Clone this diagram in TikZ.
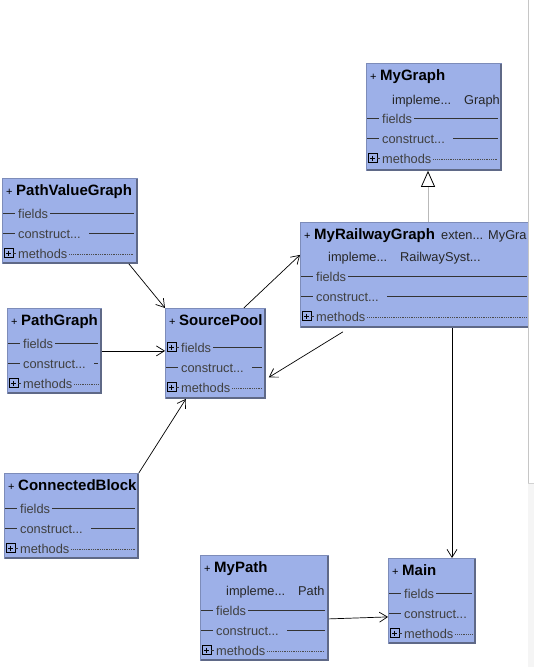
\documentclass[tikz,border=0pt]{standalone}
\usepackage{fontspec}
\setmainfont{Liberation Sans}
\usetikzlibrary{arrows.meta}
\definecolor{clsfill}{RGB}{157,176,232}
\definecolor{clsedge}{RGB}{125,140,185}
\definecolor{clsshadow}{RGB}{95,105,135}
\definecolor{memtext}{RGB}{64,64,64}
\tikzset{
 clsbox/.style={draw=clsedge, fill=clsfill, line width=0.8pt, rectangle, inner sep=0pt, anchor=north west},
 shadowline/.style={draw=clsshadow, line width=1.6pt},
 ttl/.style={font=\fontsize{15}{17}\selectfont\bfseries, inner sep=0pt, anchor=base west},
 pl/.style={font=\fontsize{11}{12}\selectfont, inner sep=0pt, anchor=base west},
 mem/.style={font=\fontsize{12.8}{14}\selectfont, text=memtext, inner sep=0pt, anchor=base west},
 memline/.style={draw=black!80, line width=0.8pt},
 dotline/.style={draw=black!70, line width=0.6pt, dash pattern=on 0.6pt off 1.2pt},
 pboxline/.style={draw=black, line width=0.6pt},
 conn/.style={draw=black, line width=0.7pt, -{Straight Barb[length=8pt,width=10pt]}},
}
\newcommand\umlclass[7]{%
 \def\cid{#1}\def\cw{#4}%
 \begin{scope}[shift={(#2,#3)}]
  \node[clsbox, minimum width=#4pt, minimum height=#5pt] (#1) at (0,0) {};
  \draw[shadowline] (#4,1) -- (#4,#5) -- (1,#5);
  \node[pl] (#1-plus) at (4,17) {+};
  \node[ttl] (#1-title) at (14,17) {#6};
  #7
 \end{scope}}
\newcommand\plusbox[1]{%
 \draw[pboxline] (2,#1-4.5) rectangle (11,#1+4.5);
 \draw[pboxline] (4,#1) -- (9,#1) (6.5,#1-2.5) -- (6.5,#1+2.5);
 \draw[memline] (11,#1) -- (14,#1);}
\newcommand\rowF[2]{%
 \draw[memline] (1,#1) -- (13,#1);
 \node[mem] (\cid-f) at (16,#1+5) {#2};
 \draw[memline, shorten <=2pt] (\cid-f.east |- 0,#1) -- (\cw-3,#1);}
\newcommand\rowFP[2]{%
 \plusbox{#1}
 \node[mem] (\cid-f) at (16,#1+5) {#2};
 \draw[memline, shorten <=2pt] (\cid-f.east |- 0,#1) -- (\cw-3,#1);}
\newcommand\rowC[2]{%
 \draw[memline] (1,#1) -- (13,#1);
 \node[mem] (\cid-c) at (16,#1+5) {#2};
 \draw[memline, shorten <=8pt] (\cid-c.east |- 0,#1) -- (\cw-3,#1);}
\newcommand\rowCn[2]{%
 \draw[memline] (1,#1) -- (13,#1);
 \node[mem] (\cid-c) at (16,#1+5) {#2};}
\newcommand\rowM[2]{%
 \plusbox{#1}
 \node[mem] (\cid-m) at (16,#1+5) {#2};
 \draw[dotline, shorten <=2pt] (\cid-m.east |- 0,#1+1) -- (\cw-3,#1+1);}
\newcommand\rowI[3]{%
 \node[mem, text=black!85] (\cid-i1) at (26,#1+5) {#2};
 \node[mem, text=black!85] (\cid-i2) at (98,#1+5) {#3};}
\begin{document}
\begin{tikzpicture}[x=1pt, y=-1pt]
\useasboundingbox (0,0) rectangle (534,667);
\fill[white] (0,0) rectangle (534,667);

\umlclass{mg}{366}{63}{135}{107}{MyGraph}{%
 \rowI{36}{impleme...}{Graph}
 \rowF{55}{fields}
 \rowC{75}{construct...}
 \rowM{95}{methods}}

\umlclass{mrg}{300}{222}{230}{105}{MyRailwayGraph}{%
 \node[mem, text=black!85] (mrg-ext) at (141,17) {exten...};
 \node[mem, text=black!85] (mrg-sup) at (188,17) {MyGra};
 \node[mem, text=black!85] (mrg-i1) at (28,39) {impleme...};
 \node[mem, text=black!85] (mrg-i2) at (100,39) {RailwaySyst...};
 \rowF{54}{fields}
 \rowC{74}{construct...}
 \rowM{94}{methods}}

\umlclass{pvg}{2}{178}{135}{85}{PathValueGraph}{%
 \rowF{35}{fields}
 \rowC{55}{construct...}
 \rowM{75}{methods}}

\umlclass{pg}{7}{308}{94}{85}{PathGraph}{%
 \rowF{35}{fields}
 \rowC{55}{construct...}
 \rowM{75}{methods}}

\umlclass{sp}{165}{308}{100}{90}{SourcePool}{%
 \rowFP{39}{fields}
 \rowC{59}{construct...}
 \rowM{79}{methods}}

\umlclass{cb}{4}{473}{134}{85}{ConnectedBlock}{%
 \rowF{35}{fields}
 \rowC{55}{construct...}
 \rowM{75}{methods}}

\umlclass{mp}{200}{555}{128}{105}{MyPath}{%
 \rowI{35}{impleme...}{Path}
 \rowF{55}{fields}
 \rowC{75}{construct...}
 \rowM{95}{methods}}

\umlclass{main}{388}{558}{87}{85}{Main}{%
 \rowF{35}{fields}
 \rowCn{55}{construct...}
 \rowM{75}{methods}}

% connectors
\draw[conn] ([xshift=-9pt]pvg.south east) -- (sp.north west);
\draw[conn] (pg.east) -- (pg.east -| sp.west);
\draw[conn] (cb.north east) -- ([xshift=21pt]sp.south west);
\draw[conn] ([xshift=-22pt]sp.north east) -- ([yshift=20pt]mrg.west);
\draw[conn] ([xshift=43pt,yshift=-4pt]mrg.south west) -- ([xshift=3pt,yshift=-24pt]sp.east);
\coordinate (c1) at ([xshift=152pt]mrg.south west);
\draw[conn] (c1) -- (c1 |- main.north);
\draw[conn] ([yshift=-11pt]mp.east) -- ([yshift=-16pt]main.west);
\coordinate (c2) at ([xshift=128pt]mrg.north west);
\draw[draw=gray!55, line width=0.8pt, -{Triangle[open, color=black, fill=white, length=16pt, width=14pt, line width=0.8pt]}] (c2) -- (c2 |- mg.south);

% scrollbar at right edge
\fill[white] (528,0) rectangle (534,483);
\draw[gray!45, line width=0.8pt] (528.5,0) -- (528.5,483);
\fill[gray!8] (528,483) rectangle (534,667);
\draw[gray!35, line width=0.6pt] (528,483) -- (534,483);
\end{tikzpicture}
\end{document}
